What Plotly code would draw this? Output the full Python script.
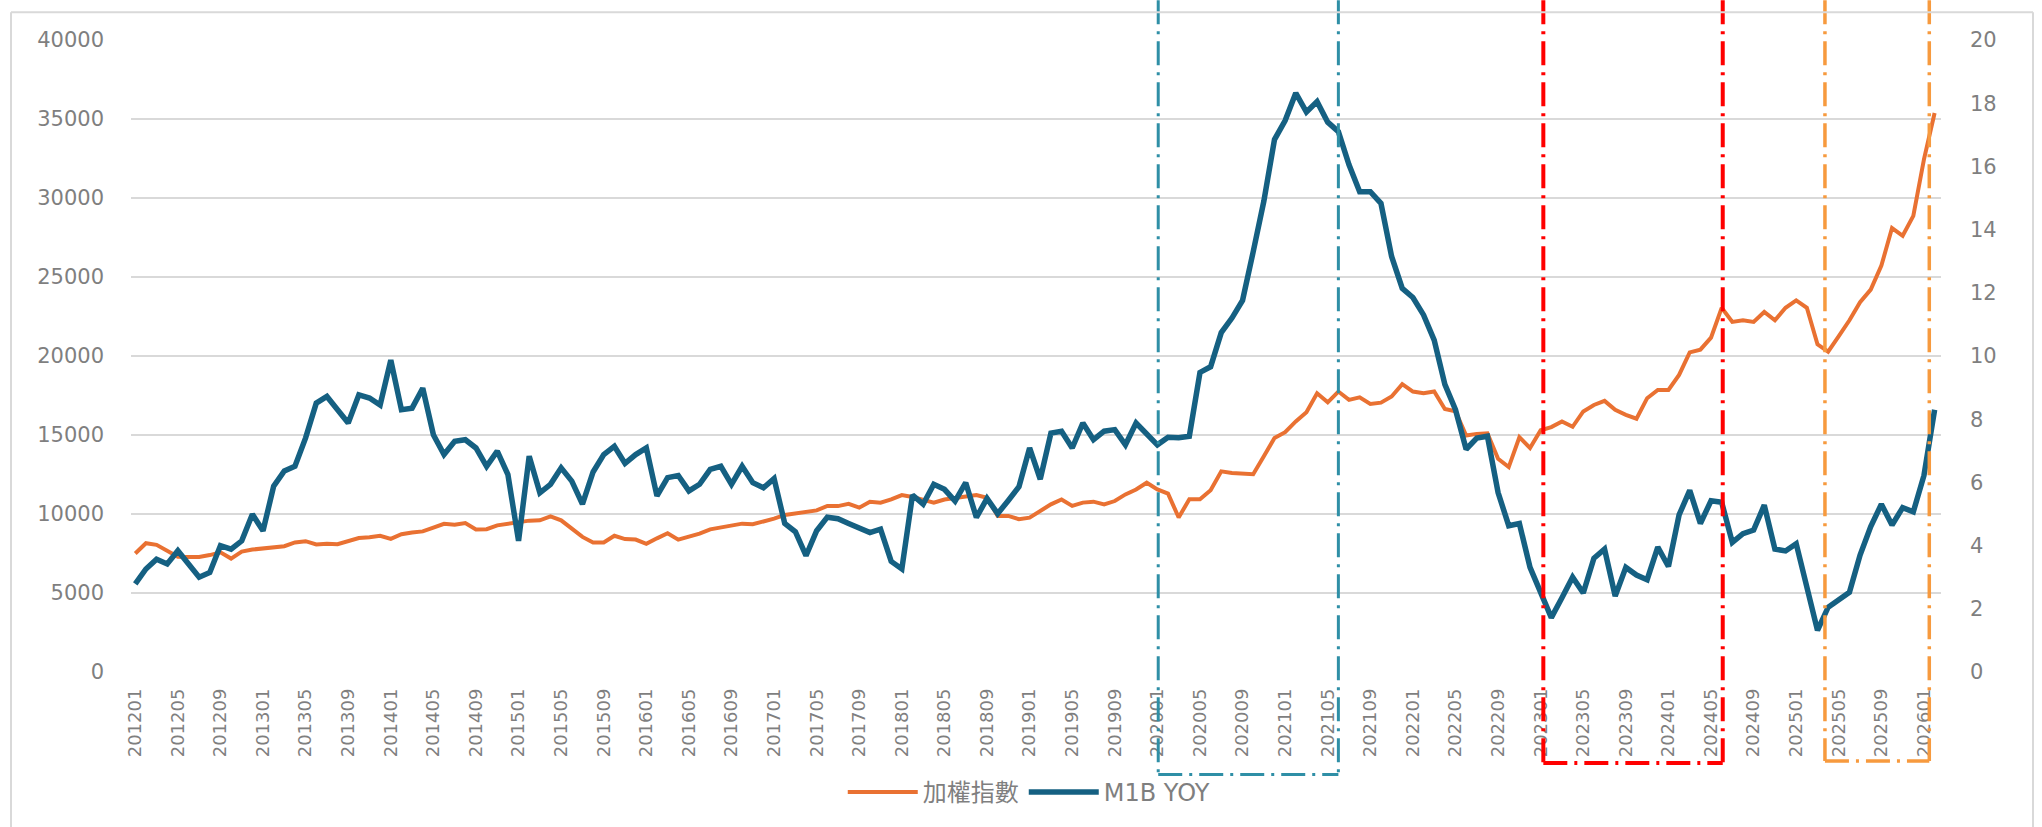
import plotly.graph_objects as go

# ---------------- data ----------------
months = [f"{y}{m:02d}" for y in range(2012, 2027) for m in range(1, 13)][:170]
tick_labels = months[::4]

taiex = [
    7500, 8150, 8050, 7650, 7300, 7280, 7280, 7400, 7570, 7180,
    7620, 7750, 7820, 7880, 7960, 8200, 8280, 8070, 8120, 8090,
    8300, 8480, 8530, 8620, 8430, 8720, 8830, 8900, 9140, 9380,
    9320, 9430, 9020, 9040, 9280, 9380, 9500, 9580, 9600, 9850,
    9600, 9100, 8550, 8200, 8200, 8620, 8410, 8380, 8110, 8460,
    8780, 8380, 8570, 8760, 9030, 9140, 9250, 9390, 9350, 9500,
    9710, 9940, 10030, 10090, 10230, 10510, 10500, 10640, 10400, 10780,
    10720, 10920, 11200, 11080, 10920, 10720, 10920, 11030, 11140, 11200,
    11030, 9880, 9880, 9670, 9770, 10200, 10610, 10920, 10510, 10720,
    10780, 10610, 10820, 11240, 11550, 11980, 11560, 11290, 9780, 10930,
    10930, 11500, 12700, 12600, 12540, 12520, 13660, 14810, 15180, 15860,
    16440, 17640, 17070, 17750, 17220, 17380, 16960, 17050, 17440, 18220,
    17750, 17640, 17750, 16650, 16500, 14970, 15070, 15100, 13500, 12970,
    14860, 14180, 15300, 15500, 15860, 15520, 16490, 16900, 17160, 16590,
    16280, 16030, 17330, 17850, 17850, 18800, 20230, 20400, 21160, 23050,
    22160, 22260, 22160, 22790, 22260, 23050, 23520, 23050, 20740, 20270,
    21260, 22260, 23400, 24200, 25720, 28100, 27610, 28870, 32450, 35380,
]

m1b_yoy = [
    2.79, 3.26, 3.57, 3.42, 3.84, 3.42, 3.00, 3.15, 4.00, 3.89,
    4.15, 4.99, 4.47, 5.88, 6.36, 6.51, 7.41, 8.51, 8.72, 8.30,
    7.88, 8.77, 8.67, 8.45, 9.87, 8.30, 8.35, 8.98, 7.51, 6.88,
    7.30, 7.35, 7.09, 6.51, 6.99, 6.25, 4.15, 6.83, 5.67, 5.94,
    6.46, 6.04, 5.31, 6.33, 6.88, 7.14, 6.60, 6.88, 7.09, 5.57,
    6.15, 6.22, 5.73, 5.94, 6.41, 6.51, 5.94, 6.51, 5.99, 5.83,
    6.12, 4.70, 4.44, 3.68, 4.47, 4.90, 4.85, 4.70, 4.54, 4.41,
    4.52, 3.50, 3.26, 5.60, 5.31, 5.94, 5.78, 5.41, 5.99, 4.89,
    5.49, 5.01, 5.43, 5.86, 7.09, 6.10, 7.56, 7.62, 7.09, 7.88,
    7.35, 7.62, 7.67, 7.19, 7.88, 7.56, 7.19, 7.43, 7.41, 7.46,
    9.48, 9.66, 10.74, 11.20, 11.76, 13.30, 14.90, 16.85, 17.45, 18.32,
    17.72, 18.05, 17.40, 17.10, 16.05, 15.20, 15.20, 14.83, 13.15, 12.14,
    11.85, 11.30, 10.50, 9.10, 8.30, 7.05, 7.40, 7.46, 5.68, 4.63,
    4.70, 3.31, 2.53, 1.72, 2.35, 3.00, 2.50, 3.60, 3.89, 2.40,
    3.31, 3.07, 2.92, 3.95, 3.34, 4.97, 5.75, 4.70, 5.42, 5.37,
    4.10, 4.38, 4.49, 5.28, 3.89, 3.83, 4.06, 2.70, 1.32, 2.05,
    2.26, 2.52, 3.70, 4.60, 5.31, 4.65, 5.20, 5.07, 6.22, 8.30,
]

# highlighted periods (category index positions on the x axis)
boxes = [
    dict(x0=96.08, x1=113.0, bottom=-0.162, color="#2F8FA6", width=3),
    dict(x0=132.25, x1=149.1, bottom=-0.144, color="#FF0000", width=4),
    dict(x0=158.7, x1=168.5, bottom=-0.141, color="#F79A3E", width=3.5),
]

# ---------------- figure ----------------
W, H = 2042, 827
ML, MR, MT, MB = 131, 101, 40, 152
PW, PH = W - ML - MR, H - MT - MB

def px_to_paper_x(px):
    return (px - ML) / PW

def px_to_paper_y(py):
    return (H - MB - py) / PH

tick_font = dict(family="DejaVu Sans, Liberation Sans, sans-serif", size=21, color="#7f7f7f")

fig = go.Figure()
fig.add_trace(go.Scatter(
    x=months, y=taiex, name="加權指數", mode="lines",
    line=dict(color="#E97132", width=4), yaxis="y",
))
fig.add_trace(go.Scatter(
    x=months, y=m1b_yoy, name="M1B YOY", mode="lines",
    line=dict(color="#156082", width=5.5), yaxis="y2",
))

shapes = []
dash = "24px,7px,3px,7px"
top = px_to_paper_y(0)
for b in boxes:
    ln = dict(color=b["color"], width=b["width"], dash=dash)
    shapes.append(dict(type="line", xref="x", yref="paper", x0=b["x0"], x1=b["x0"], y0=top, y1=b["bottom"], line=ln))
    shapes.append(dict(type="line", xref="x", yref="paper", x0=b["x1"], x1=b["x1"], y0=top, y1=b["bottom"], line=ln))
    shapes.append(dict(type="line", xref="x", yref="paper", x0=b["x0"], x1=b["x1"], y0=b["bottom"], y1=b["bottom"], line=ln))

# outer chart frame
frame = dict(color="#d9d9d9", width=2)
fx0, fx1 = px_to_paper_x(11), px_to_paper_x(2033)
fy0, fy1 = px_to_paper_y(12), px_to_paper_y(900)
shapes.append(dict(type="line", xref="paper", yref="paper", x0=fx0, x1=fx1, y0=fy0, y1=fy0, line=frame))
shapes.append(dict(type="line", xref="paper", yref="paper", x0=fx0, x1=fx0, y0=fy0, y1=fy1, line=frame))
shapes.append(dict(type="line", xref="paper", yref="paper", x0=fx1, x1=fx1, y0=fy0, y1=fy1, line=frame))

fig.update_layout(
    width=W, height=H, autosize=False,
    margin=dict(l=ML, r=MR, t=MT, b=MB, pad=0),
    paper_bgcolor="white", plot_bgcolor="white",
    xaxis=dict(
        type="category", range=[-0.4, 169.6],
        tickmode="array", tickvals=tick_labels, ticktext=tick_labels,
        tickangle=-90, showgrid=False, zeroline=False, showline=False, ticks="",
        tickfont=dict(family="DejaVu Sans, Liberation Sans, sans-serif", size=18, color="#7f7f7f"),
        ticklabelstandoff=12,
    ),
    yaxis=dict(
        range=[0, 40000], tick0=0, dtick=5000, tickformat="d",
        showgrid=True, gridcolor="#d9d9d9", gridwidth=1.5,
        zeroline=False, showline=False, ticks="",
        tickfont=tick_font, ticklabelstandoff=26,
    ),
    yaxis2=dict(
        overlaying="y", side="right", range=[0, 20], tick0=0, dtick=2,
        showgrid=False, zeroline=False, showline=False, ticks="",
        tickfont=tick_font, ticklabelstandoff=28,
    ),
    legend=dict(
        orientation="h", x=0.496, xanchor="center", y=px_to_paper_y(796), yanchor="middle",
        font=dict(family="DejaVu Sans, Noto Sans CJK TC, sans-serif", size=24, color="#7f7f7f"),
        itemwidth=70, bgcolor="rgba(0,0,0,0)",
    ),
    showlegend=True,
    shapes=shapes,
)

fig.write_html(
    "out.html",
    config={"displayModeBar": False},
    post_script="document.body.style.margin='0';document.body.style.overflow='hidden';",
)
